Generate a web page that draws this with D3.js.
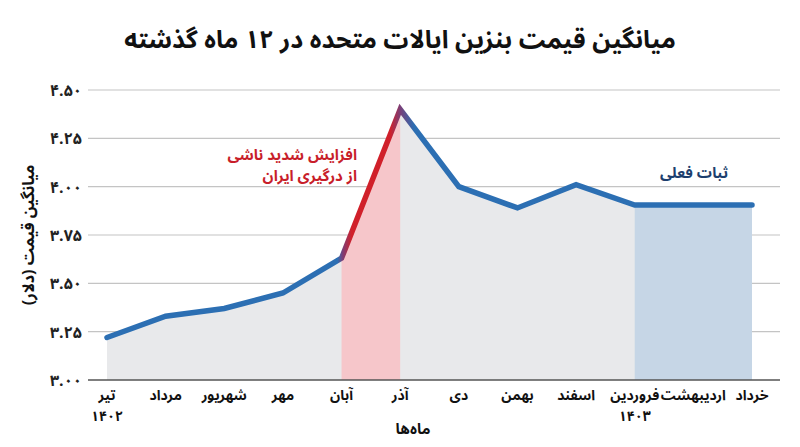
<!DOCTYPE html>
<html><head><meta charset="utf-8">
<script src="https://cdn.jsdelivr.net/npm/d3@7"></script>
<style>
html,body{margin:0;padding:0;background:#fff;}
svg text{font-family:"Noto Sans Arabic","Noto Naskh Arabic","DejaVu Sans",sans-serif;font-weight:bold;}
</style></head>
<body><svg id="c" width="800" height="447"></svg>
<script>
const months = ["تیر","مرداد","شهریور","مهر","آبان","آذر","دی","بهمن","اسفند","فروردین","اردیبهشت","خرداد"];
const yearLabels = ["۱۴۰۲","","","","","","","","","۱۴۰۳","",""];
const prices = [3.22, 3.33, 3.37, 3.45, 3.63, 4.40, 4.00, 3.89, 4.01, 3.905, 3.905, 3.905];
const yTicks = [3.00, 3.25, 3.50, 3.75, 4.00, 4.25, 4.50];
const title = "میانگین قیمت بنزین ایالات متحده در ۱۲ ماه گذشته";
const yTitle = "میانگین قیمت (دلار)";
const xTitle = "ماه‌ها";
const noteSpike = ["افزایش شدید ناشی","از درگیری ایران"];
const noteFlat = "ثبات فعلی";
const spikeRange = [4, 5];
const flatRange = [9, 11];

const fa = s => String(s).replace(/\d/g, d => "۰۱۲۳۴۵۶۷۸۹"[d]);
const svg = d3.select("#c");
const x = d3.scalePoint().domain(d3.range(months.length)).range([107, 752]);
const y = d3.scaleLinear().domain([3.0, 4.5]).range([380, 90]);
const L = 88, R = 780;

// title
svg.append("text").attr("x", 400).attr("y", 48).attr("text-anchor","middle")
  .attr("font-size", 25).attr("fill","#111").text(title);

// gridlines
svg.append("g").selectAll("line").data(yTicks.slice(1)).join("line")
  .attr("x1", L).attr("x2", R).attr("y1", d=>y(d)).attr("y2", d=>y(d))
  .attr("stroke","#c4c4c4").attr("stroke-width",1.2);

// gray area
const area = d3.area().x((d,i)=>x(i)).y0(y(3.0)).y1(d=>y(d));
svg.append("path").datum(prices).attr("d", area).attr("fill","#e8e9eb");

// highlight bands
const band = (r, col) => svg.append("path")
  .datum(prices.map((v,i)=>[i,v]).filter(d=>d[0]>=r[0] && d[0]<=r[1]))
  .attr("d", d3.area().x(d=>x(d[0])).y0(y(3.0)).y1(d=>y(d[1])))
  .attr("fill", col);
band(spikeRange, "#f6c6ca");
band(flatRange, "#c6d6e6");

// x axis line
svg.append("line").attr("x1", L).attr("x2", R).attr("y1", y(3.0)).attr("y2", y(3.0))
  .attr("stroke","#555").attr("stroke-width",1.5);

// gradient for line
const defs = svg.append("defs");
const g = defs.append("linearGradient").attr("id","lg").attr("gradientUnits","userSpaceOnUse")
  .attr("x1", x(0)).attr("x2", x(11)).attr("y1",0).attr("y2",0);
const tot = x(11)-x(0);
const pos = v => ((v - x(0))/tot*100)+"%";
[[x(0),"#2c6fb3"],[x(4)-4,"#2c6fb3"],[x(4)+1,"#7a3f78"],[x(4)+10,"#d0202a"],[x(5)-10,"#d0202a"],[x(5),"#7a3f78"],[x(5)+14,"#2c6fb3"],[x(11),"#2c6fb3"]]
  .forEach(s=>g.append("stop").attr("offset",pos(s[0])).attr("stop-color",s[1]));

const line = d3.line().x((d,i)=>x(i)).y(d=>y(d));
svg.append("path").datum(prices).attr("d", line).attr("fill","none")
  .attr("stroke","url(#lg)").attr("stroke-width",5.5)
  .attr("stroke-linejoin","miter").attr("stroke-linecap","round");

// y tick labels
svg.append("g").selectAll("text").data(yTicks).join("text")
  .attr("x", 82).attr("y", d=>y(d)+6).attr("text-anchor","end")
  .attr("font-size", 16).attr("fill","#222")
  .text(d=>fa(d.toFixed(2)));

// y title
svg.append("text").attr("transform","translate(34,235) rotate(-90)").attr("text-anchor","middle")
  .attr("font-size",16).attr("fill","#111").text(yTitle);

// x labels
svg.append("g").selectAll("text").data(months).join("text")
  .attr("x",(d,i)=>x(i)).attr("y",400).attr("text-anchor","middle")
  .attr("font-size",14).attr("fill","#111").text(d=>d);
svg.append("g").selectAll("text").data(yearLabels).join("text")
  .attr("x",(d,i)=>x(i)).attr("y",421).attr("text-anchor","middle")
  .attr("font-size",14).attr("fill","#111").text(d=>d);
svg.append("text").attr("x",413).attr("y",434).attr("text-anchor","middle")
  .attr("font-size",15).attr("fill","#111").text(xTitle);

// annotations
svg.append("g").selectAll("text").data(noteSpike).join("text")
  .attr("x",357).attr("y",(d,i)=>160+i*21).attr("text-anchor","end")
  .attr("font-size",15).attr("fill","#c81e2a").text(d=>d);
svg.append("text").attr("x",694).attr("y",178).attr("text-anchor","middle")
  .attr("font-size",15).attr("fill","#1d3f6e").text(noteFlat);
</script></body></html>
